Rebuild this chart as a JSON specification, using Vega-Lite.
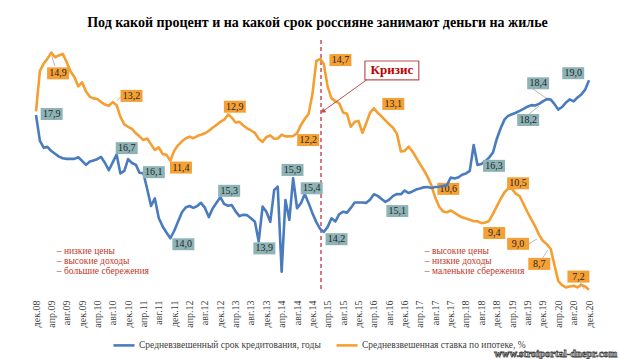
{
  "$schema": "https://vega.github.io/schema/vega-lite/v6.json",
  "autosize": "none",
  "width": 553,
  "height": 252,
  "padding": {"left": 36, "top": 40, "right": 31, "bottom": 67},
  "background": "#ffffff",
  "config": {"view": {"stroke": null}, "font": "Liberation Serif"},
  "title": {"text": "Под какой процент и на какой срок россияне занимают деньги на жилье", "font": "Liberation Serif", "fontSize": 14, "fontWeight": "bold", "color": "#000000", "anchor": "middle", "baseline": "bottom", "offset": -5, "dx": 5},
  "datasets": {
    "series": [
      {"date": "2008-12-01", "term": 17.9, "rate": 13.0},
      {"date": "2009-01-01", "term": 17.08, "rate": 14.31},
      {"date": "2009-02-01", "term": 16.86, "rate": 14.55},
      {"date": "2009-03-01", "term": 16.89, "rate": 14.7},
      {"date": "2009-04-01", "term": 16.76, "rate": 14.9},
      {"date": "2009-05-01", "term": 16.67, "rate": 14.75},
      {"date": "2009-06-01", "term": 16.58, "rate": 14.81},
      {"date": "2009-07-01", "term": 16.53, "rate": 14.86},
      {"date": "2009-08-01", "term": 16.51, "rate": 14.6},
      {"date": "2009-09-01", "term": 16.51, "rate": 14.29},
      {"date": "2009-10-01", "term": 16.51, "rate": 14.11},
      {"date": "2009-11-01", "term": 16.56, "rate": 13.81},
      {"date": "2009-12-01", "term": 16.45, "rate": 13.94},
      {"date": "2010-01-01", "term": 16.32, "rate": 13.64},
      {"date": "2010-02-01", "term": 16.43, "rate": 13.47},
      {"date": "2010-03-01", "term": 16.46, "rate": 13.42},
      {"date": "2010-04-01", "term": 16.5, "rate": 13.4},
      {"date": "2010-05-01", "term": 16.57, "rate": 13.3},
      {"date": "2010-06-01", "term": 16.38, "rate": 13.22},
      {"date": "2010-07-01", "term": 16.15, "rate": 13.18},
      {"date": "2010-08-01", "term": 16.4, "rate": 13.3},
      {"date": "2010-09-01", "term": 16.65, "rate": 13.2},
      {"date": "2010-10-01", "term": 16.05, "rate": 12.82},
      {"date": "2010-11-01", "term": 16.13, "rate": 12.58},
      {"date": "2010-12-01", "term": 16.5, "rate": 12.5},
      {"date": "2011-01-01", "term": 16.38, "rate": 12.43},
      {"date": "2011-02-01", "term": 16.32, "rate": 12.29},
      {"date": "2011-03-01", "term": 16.07, "rate": 12.19},
      {"date": "2011-04-01", "term": 16.06, "rate": 12.07},
      {"date": "2011-05-01", "term": 15.56, "rate": 12.12},
      {"date": "2011-06-01", "term": 15.02, "rate": 11.93},
      {"date": "2011-07-01", "term": 15.26, "rate": 11.75},
      {"date": "2011-08-01", "term": 14.64, "rate": 11.83},
      {"date": "2011-09-01", "term": 14.37, "rate": 11.62},
      {"date": "2011-10-01", "term": 14.18, "rate": 11.59},
      {"date": "2011-11-01", "term": 14.0, "rate": 11.4},
      {"date": "2011-12-01", "term": 14.23, "rate": 11.72},
      {"date": "2012-01-01", "term": 14.53, "rate": 11.9},
      {"date": "2012-02-01", "term": 14.82, "rate": 12.03},
      {"date": "2012-03-01", "term": 14.97, "rate": 12.12},
      {"date": "2012-04-01", "term": 15.02, "rate": 12.18},
      {"date": "2012-05-01", "term": 14.96, "rate": 12.13},
      {"date": "2012-06-01", "term": 15.02, "rate": 12.2},
      {"date": "2012-07-01", "term": 15.12, "rate": 12.24},
      {"date": "2012-08-01", "term": 14.96, "rate": 12.29},
      {"date": "2012-09-01", "term": 14.67, "rate": 12.37},
      {"date": "2012-10-01", "term": 14.94, "rate": 12.47},
      {"date": "2012-11-01", "term": 15.12, "rate": 12.56},
      {"date": "2012-12-01", "term": 15.3, "rate": 12.66},
      {"date": "2013-01-01", "term": 15.08, "rate": 12.73},
      {"date": "2013-02-01", "term": 15.03, "rate": 12.9},
      {"date": "2013-03-01", "term": 15.05, "rate": 12.8},
      {"date": "2013-04-01", "term": 14.85, "rate": 12.64},
      {"date": "2013-05-01", "term": 14.7, "rate": 12.66},
      {"date": "2013-06-01", "term": 14.74, "rate": 12.54},
      {"date": "2013-07-01", "term": 14.73, "rate": 12.45},
      {"date": "2013-08-01", "term": 14.63, "rate": 12.38},
      {"date": "2013-09-01", "term": 14.52, "rate": 12.3},
      {"date": "2013-10-01", "term": 13.9, "rate": 12.11},
      {"date": "2013-11-01", "term": 15.0, "rate": 12.01},
      {"date": "2013-12-01", "term": 14.84, "rate": 12.17},
      {"date": "2014-01-01", "term": 14.52, "rate": 12.22},
      {"date": "2014-02-01", "term": 15.53, "rate": 12.11},
      {"date": "2014-03-01", "term": 15.63, "rate": 12.12},
      {"date": "2014-04-01", "term": 12.94, "rate": 12.24},
      {"date": "2014-05-01", "term": 15.21, "rate": 12.19},
      {"date": "2014-06-01", "term": 14.58, "rate": 12.19},
      {"date": "2014-07-01", "term": 15.9, "rate": 12.2},
      {"date": "2014-08-01", "term": 14.95, "rate": 12.29},
      {"date": "2014-09-01", "term": 15.11, "rate": 12.56},
      {"date": "2014-10-01", "term": 15.4, "rate": 12.75},
      {"date": "2014-11-01", "term": 15.11, "rate": 12.92},
      {"date": "2014-12-01", "term": 14.79, "rate": 13.56},
      {"date": "2015-01-01", "term": 14.51, "rate": 14.63},
      {"date": "2015-02-01", "term": 14.29, "rate": 14.7},
      {"date": "2015-03-01", "term": 14.2, "rate": 14.53},
      {"date": "2015-04-01", "term": 14.36, "rate": 13.79},
      {"date": "2015-05-01", "term": 14.63, "rate": 13.42},
      {"date": "2015-06-01", "term": 14.53, "rate": 13.33},
      {"date": "2015-07-01", "term": 14.76, "rate": 13.26},
      {"date": "2015-08-01", "term": 14.84, "rate": 12.96},
      {"date": "2015-09-01", "term": 14.81, "rate": 12.92},
      {"date": "2015-10-01", "term": 14.96, "rate": 12.5},
      {"date": "2015-11-01", "term": 15.13, "rate": 12.66},
      {"date": "2015-12-01", "term": 15.13, "rate": 12.69},
      {"date": "2016-01-01", "term": 15.13, "rate": 12.3},
      {"date": "2016-02-01", "term": 15.12, "rate": 12.62},
      {"date": "2016-03-01", "term": 15.22, "rate": 12.95},
      {"date": "2016-04-01", "term": 15.39, "rate": 13.1},
      {"date": "2016-05-01", "term": 15.34, "rate": 12.95},
      {"date": "2016-06-01", "term": 15.24, "rate": 12.84},
      {"date": "2016-07-01", "term": 15.15, "rate": 12.71},
      {"date": "2016-08-01", "term": 15.22, "rate": 12.58},
      {"date": "2016-09-01", "term": 15.34, "rate": 12.46},
      {"date": "2016-10-01", "term": 15.4, "rate": 12.27},
      {"date": "2016-11-01", "term": 15.39, "rate": 11.7},
      {"date": "2016-12-01", "term": 15.51, "rate": 11.72},
      {"date": "2017-01-01", "term": 15.43, "rate": 11.86},
      {"date": "2017-02-01", "term": 15.48, "rate": 11.7},
      {"date": "2017-03-01", "term": 15.54, "rate": 11.51},
      {"date": "2017-04-01", "term": 15.57, "rate": 11.3},
      {"date": "2017-05-01", "term": 15.61, "rate": 11.1},
      {"date": "2017-06-01", "term": 15.62, "rate": 10.88},
      {"date": "2017-07-01", "term": 15.59, "rate": 10.6},
      {"date": "2017-08-01", "term": 15.62, "rate": 10.2},
      {"date": "2017-09-01", "term": 15.63, "rate": 9.91},
      {"date": "2017-10-01", "term": 15.65, "rate": 9.76},
      {"date": "2017-11-01", "term": 15.68, "rate": 9.73},
      {"date": "2017-12-01", "term": 15.92, "rate": 9.79},
      {"date": "2018-01-01", "term": 15.89, "rate": 9.71},
      {"date": "2018-02-01", "term": 15.93, "rate": 9.63},
      {"date": "2018-03-01", "term": 16.01, "rate": 9.57},
      {"date": "2018-04-01", "term": 16.05, "rate": 9.53},
      {"date": "2018-05-01", "term": 16.13, "rate": 9.49},
      {"date": "2018-06-01", "term": 16.95, "rate": 9.44},
      {"date": "2018-07-01", "term": 16.32, "rate": 9.44},
      {"date": "2018-08-01", "term": 16.35, "rate": 9.38},
      {"date": "2018-09-01", "term": 16.44, "rate": 9.4},
      {"date": "2018-10-01", "term": 16.55, "rate": 9.45},
      {"date": "2018-11-01", "term": 16.71, "rate": 9.68},
      {"date": "2018-12-01", "term": 17.14, "rate": 9.92},
      {"date": "2019-01-01", "term": 17.48, "rate": 10.17},
      {"date": "2019-02-01", "term": 17.76, "rate": 10.38},
      {"date": "2019-03-01", "term": 17.87, "rate": 10.5},
      {"date": "2019-04-01", "term": 17.92, "rate": 10.49},
      {"date": "2019-05-01", "term": 17.97, "rate": 10.33},
      {"date": "2019-06-01", "term": 18.03, "rate": 10.25},
      {"date": "2019-07-01", "term": 18.09, "rate": 10.0},
      {"date": "2019-08-01", "term": 18.16, "rate": 9.74},
      {"date": "2019-09-01", "term": 18.21, "rate": 9.5},
      {"date": "2019-10-01", "term": 18.2, "rate": 9.28},
      {"date": "2019-11-01", "term": 18.25, "rate": 9.0},
      {"date": "2019-12-01", "term": 18.33, "rate": 8.81},
      {"date": "2020-01-01", "term": 18.4, "rate": 8.7},
      {"date": "2020-02-01", "term": 18.39, "rate": 8.55},
      {"date": "2020-03-01", "term": 18.25, "rate": 8.05},
      {"date": "2020-04-01", "term": 18.07, "rate": 7.51},
      {"date": "2020-05-01", "term": 18.15, "rate": 7.37},
      {"date": "2020-06-01", "term": 18.29, "rate": 7.3},
      {"date": "2020-07-01", "term": 18.39, "rate": 7.33},
      {"date": "2020-08-01", "term": 18.33, "rate": 7.35},
      {"date": "2020-09-01", "term": 18.45, "rate": 7.3},
      {"date": "2020-10-01", "term": 18.55, "rate": 7.38},
      {"date": "2020-11-01", "term": 18.7, "rate": 7.33},
      {"date": "2020-12-01", "term": 19.0, "rate": 7.22}
    ],
    "rateLabels": [
      {"date": "2009-05-25", "rate": 14.23, "label": "14,9"},
      {"date": "2010-12-28", "rate": 13.5, "label": "13,2"},
      {"date": "2013-03-26", "rate": 13.15, "label": "12,9"},
      {"date": "2012-01-24", "rate": 11.18, "label": "11,4"},
      {"date": "2014-10-28", "rate": 12.07, "label": "12,2"},
      {"date": "2015-07-11", "rate": 14.66, "label": "14,7"},
      {"date": "2016-09-02", "rate": 13.24, "label": "13,1"},
      {"date": "2017-11-12", "rate": 10.49, "label": "10,6"},
      {"date": "2019-05-19", "rate": 10.67, "label": "10,5"},
      {"date": "2018-11-11", "rate": 9.06, "label": "9,4"},
      {"date": "2019-05-19", "rate": 8.71, "label": "9,0"},
      {"date": "2019-11-03", "rate": 8.06, "label": "8,7"},
      {"date": "2020-09-08", "rate": 7.65, "label": "7,2"}
    ],
    "termLabels": [
      {"date": "2009-04-04", "term": 17.93, "label": "17,9"},
      {"date": "2010-11-20", "term": 16.85, "label": "16,7"},
      {"date": "2011-06-23", "term": 16.09, "label": "16,1"},
      {"date": "2013-02-09", "term": 15.5, "label": "15,3"},
      {"date": "2012-02-12", "term": 13.81, "label": "14,0"},
      {"date": "2013-11-15", "term": 13.68, "label": "13,9"},
      {"date": "2014-06-26", "term": 16.16, "label": "15,9"},
      {"date": "2014-11-25", "term": 15.58, "label": "15,4"},
      {"date": "2015-06-10", "term": 13.97, "label": "14,2"},
      {"date": "2016-10-04", "term": 14.86, "label": "15,1"},
      {"date": "2018-11-09", "term": 16.29, "label": "16,3"},
      {"date": "2019-08-07", "term": 17.74, "label": "18,2"},
      {"date": "2019-10-25", "term": 18.9, "label": "18,4"},
      {"date": "2020-07-29", "term": 19.22, "label": "19,0"}
    ],
    "rateLeaders": [
      {"date": "2009-04-29", "rate": 14.47, "date2": "2009-04-05", "rate2": 14.79},
      {"date": "2010-09-04", "rate": 13.34, "date2": "2010-10-04", "rate2": 13.47},
      {"date": "2019-08-13", "rate": 8.71, "date2": "2019-10-16", "rate2": 8.87},
      {"date": "2019-12-01", "rate": 8.26, "date2": "2020-01-10", "rate2": 8.51},
      {"date": "2020-09-22", "rate": 7.45, "date2": "2020-10-23", "rate2": 7.25}
    ],
    "termLeaders": [
      {"date": "2019-08-13", "term": 17.93, "date2": "2019-11-01", "term2": 18.18},
      {"date": "2019-09-13", "term": 18.72, "date2": "2019-12-25", "term2": 18.44}
    ],
    "notes": [
      {"date": "2009-05-15", "rate": 8.48, "text": "– низкие цены"},
      {"date": "2009-05-15", "rate": 8.16, "text": "– высокие доходы"},
      {"date": "2009-05-15", "rate": 7.84, "text": "– большие сбережения"},
      {"date": "2017-05-10", "rate": 8.48, "text": "– высокие цены"},
      {"date": "2017-05-10", "rate": 8.16, "text": "– низкие доходы"},
      {"date": "2017-05-10", "rate": 7.84, "text": "– маленькие сбережения"}
    ],
    "crisisLine": [{"date": "2015-02-07", "rate": 15.31, "rate2": 7.15}],
    "crisisBox": [{"date": "2016-01-21", "date2": "2017-03-23", "rate": 14.63, "rate2": 14.02}],
    "crisisText": [{"date": "2016-08-22", "rate": 14.33, "text": "Кризис"}],
    "arrow": [{"date": "2016-02-04", "rate": 14.02, "date2": "2015-02-21", "rate2": 13.0}],
    "watermark": [{"date": "2020-03-13", "rate": 5.15, "text": "www.stroiportal-dnepr.com"}]
  },
  "encoding": {
    "x": {
      "field": "date", "type": "temporal",
      "scale": {"type": "utc", "domain": [{"year": 2008, "month": 12, "date": 1, "utc": true}, {"year": 2020, "month": 12, "date": 1, "utc": true}]},
      "axis": {
        "title": null, "domain": false, "ticks": false, "grid": false,
        "labelAngle": 270, "labelAlign": "right", "labelBaseline": "middle", "labelPadding": 8,
        "labelFont": "Liberation Serif", "labelFontSize": 10, "labelColor": "#404040", "labelOverlap": false,
        "labelExpr": "['янв','фев','мар','апр','май','июн','июл','авг','сен','окт','ноя','дек'][utcmonth(datum.value)] + '.' + utcFormat(datum.value, '%y')",
        "values": [
          {"year": 2008, "month": 12, "date": 1, "utc": true},
          {"year": 2009, "month": 4, "date": 1, "utc": true}, {"year": 2009, "month": 8, "date": 1, "utc": true}, {"year": 2009, "month": 12, "date": 1, "utc": true},
          {"year": 2010, "month": 4, "date": 1, "utc": true}, {"year": 2010, "month": 8, "date": 1, "utc": true}, {"year": 2010, "month": 12, "date": 1, "utc": true},
          {"year": 2011, "month": 4, "date": 1, "utc": true}, {"year": 2011, "month": 8, "date": 1, "utc": true}, {"year": 2011, "month": 12, "date": 1, "utc": true},
          {"year": 2012, "month": 4, "date": 1, "utc": true}, {"year": 2012, "month": 8, "date": 1, "utc": true}, {"year": 2012, "month": 12, "date": 1, "utc": true},
          {"year": 2013, "month": 4, "date": 1, "utc": true}, {"year": 2013, "month": 8, "date": 1, "utc": true}, {"year": 2013, "month": 12, "date": 1, "utc": true},
          {"year": 2014, "month": 4, "date": 1, "utc": true}, {"year": 2014, "month": 8, "date": 1, "utc": true}, {"year": 2014, "month": 12, "date": 1, "utc": true},
          {"year": 2015, "month": 4, "date": 1, "utc": true}, {"year": 2015, "month": 8, "date": 1, "utc": true}, {"year": 2015, "month": 12, "date": 1, "utc": true},
          {"year": 2016, "month": 4, "date": 1, "utc": true}, {"year": 2016, "month": 8, "date": 1, "utc": true}, {"year": 2016, "month": 12, "date": 1, "utc": true},
          {"year": 2017, "month": 4, "date": 1, "utc": true}, {"year": 2017, "month": 8, "date": 1, "utc": true}, {"year": 2017, "month": 12, "date": 1, "utc": true},
          {"year": 2018, "month": 4, "date": 1, "utc": true}, {"year": 2018, "month": 8, "date": 1, "utc": true}, {"year": 2018, "month": 12, "date": 1, "utc": true},
          {"year": 2019, "month": 4, "date": 1, "utc": true}, {"year": 2019, "month": 8, "date": 1, "utc": true}, {"year": 2019, "month": 12, "date": 1, "utc": true},
          {"year": 2020, "month": 4, "date": 1, "utc": true}, {"year": 2020, "month": 8, "date": 1, "utc": true}, {"year": 2020, "month": 12, "date": 1, "utc": true}
        ]
      }
    }
  },
  "layer": [
    {
      "encoding": {"y": {"field": "rate", "type": "quantitative", "scale": {"domain": [7.15, 15.31], "nice": false, "zero": false}, "axis": null}},
      "layer": [
        {"data": {"name": "crisisLine"}, "mark": {"type": "rule", "color": "#C8303C", "strokeWidth": 1.3, "strokeDash": [4, 3]}, "encoding": {"y2": {"field": "rate2"}}},
        {"data": {"name": "series"}, "mark": {"type": "line", "strokeWidth": 2.6, "strokeJoin": "round"},
          "encoding": {"color": {"datum": "Средневзвешенная ставка по ипотеке, %", "type": "nominal",
            "scale": {"domain": ["Средневзвешенный срок кредитования, годы", "Средневзвешенная ставка по ипотеке, %"], "range": ["#4A7BBF", "#F59E32"]},
            "legend": {"title": null, "orient": "none", "legendX": 76, "legendY": 293, "direction": "horizontal", "symbolType": "stroke", "symbolSize": 441, "symbolStrokeWidth": 2.6, "labelFont": "Liberation Serif", "labelFontSize": 9.5, "labelColor": "#404040", "labelLimit": 400, "columnPadding": 10, "labelOffset": 3, "padding": 0}}}},
        {"data": {"name": "rateLeaders"}, "mark": {"type": "rule", "color": "#A6A6A6", "strokeWidth": 0.8}, "encoding": {"x2": {"field": "date2"}, "y2": {"field": "rate2"}}},
        {"data": {"name": "rateLabels"}, "mark": {"type": "point", "shape": "M-1.83,-1H1.83V1H-1.83Z", "size": 144, "filled": true, "color": "#F5A035", "opacity": 1}},
        {"data": {"name": "rateLabels"}, "mark": {"type": "text", "font": "Liberation Serif", "fontSize": 10, "color": "#262626", "baseline": "middle", "align": "center"}, "encoding": {"text": {"field": "label"}}},
        {"data": {"name": "notes"}, "mark": {"type": "text", "font": "Liberation Serif", "fontSize": 9.5, "color": "#C0392B", "align": "left", "baseline": "middle"}, "encoding": {"text": {"field": "text"}}},
        {"data": {"name": "crisisBox"}, "mark": {"type": "rect", "fill": "#ffffff", "stroke": "#C0504D", "strokeWidth": 1.2}, "encoding": {"x2": {"field": "date2"}, "y2": {"field": "rate2"}}},
        {"data": {"name": "crisisText"}, "mark": {"type": "text", "font": "Liberation Serif", "fontSize": 13, "fontWeight": "bold", "color": "#C00000", "align": "center", "baseline": "middle"}, "encoding": {"text": {"field": "text"}}},
        {"data": {"name": "arrow"}, "mark": {"type": "rule", "color": "#C0504D", "strokeWidth": 1}, "encoding": {"x2": {"field": "date2"}, "y2": {"field": "rate2"}}},
        {"data": {"name": "arrow"}, "mark": {"type": "point", "shape": "triangle-up", "size": 30, "filled": true, "color": "#C0504D", "angle": 234, "opacity": 1}, "encoding": {"x": {"field": "date2", "type": "temporal"}, "y": {"field": "rate2", "type": "quantitative"}}},
        {"data": {"name": "watermark"}, "mark": {"type": "text", "font": "Liberation Serif", "fontSize": 10.5, "fontWeight": "bold", "fill": "#ffffff", "stroke": "#444444", "strokeWidth": 0.8, "align": "center", "baseline": "middle"}, "encoding": {"text": {"field": "text"}}}
      ]
    },
    {
      "encoding": {"y": {"field": "term", "type": "quantitative", "scale": {"domain": [12.3, 20.27], "nice": false, "zero": false}, "axis": null}},
      "layer": [
        {"data": {"name": "series"}, "mark": {"type": "line", "strokeWidth": 2.6, "strokeJoin": "round"},
          "encoding": {"color": {"datum": "Средневзвешенный срок кредитования, годы", "type": "nominal"}}},
        {"data": {"name": "termLeaders"}, "mark": {"type": "rule", "color": "#A6A6A6", "strokeWidth": 0.8}, "encoding": {"x2": {"field": "date2"}, "y2": {"field": "term2"}}},
        {"data": {"name": "termLabels"}, "mark": {"type": "point", "shape": "M-1.83,-1H1.83V1H-1.83Z", "size": 144, "filled": true, "color": "#8DB3B6", "opacity": 1}},
        {"data": {"name": "termLabels"}, "mark": {"type": "text", "font": "Liberation Serif", "fontSize": 10, "color": "#262626", "baseline": "middle", "align": "center"}, "encoding": {"text": {"field": "label"}}}
      ]
    }
  ],
  "resolve": {"scale": {"y": "independent"}}
}
